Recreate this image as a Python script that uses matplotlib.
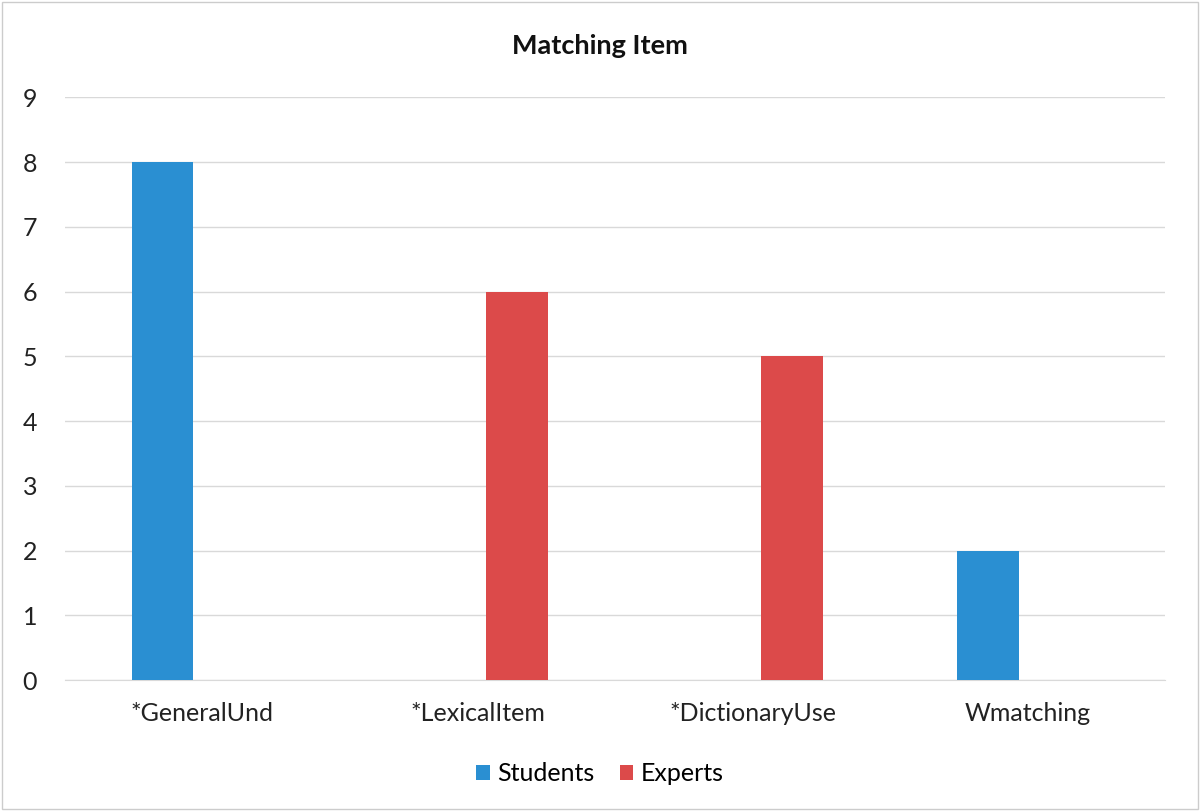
import numpy as np
import matplotlib.pyplot as plt
from matplotlib.patches import Rectangle

plt.rcParams['font.family'] = ['Lato', 'DejaVu Sans']

categories = ['*GeneralUnd', '*LexicalItem', '*DictionaryUse', 'Wmatching']
students = [8, 0, 0, 2]
experts = [0, 6, 5, 0]
yticks = list(range(0, 10))

blue = '#2a8fd2'
red = '#dc4a4a'

fig = plt.figure(figsize=(12, 8.11), dpi=100)
ax = fig.add_axes([0.054, 0.1615, 0.917, 0.7185])

x = np.arange(len(categories))
w = 0.225
off = 0.145
ax.bar(x - off, students, w, color=blue, label='Students', zorder=3)
ax.bar(x + off, experts, w, color=red, label='Experts', zorder=3)

ax.set_xlim(-0.5, len(categories) - 0.5)
ax.set_ylim(0, 9)
ax.set_yticks(yticks)
ax.set_xticks(x)
ax.set_xticklabels(categories)
ax.tick_params(axis='both', length=0, labelsize=18, colors='#222222')
ax.tick_params(axis='x', pad=16)
ax.tick_params(axis='y', pad=20)
ax.grid(axis='y', color='#d9d9d9', linewidth=1, zorder=0)
for s in ['top', 'right', 'left']:
    ax.spines[s].set_visible(False)
ax.spines['bottom'].set_color('#d9d9d9')

fig.text(0.5, 0.943, 'Matching Item', ha='center', va='center',
         fontsize=19.5, fontweight='bold', color='#111111')

fig.legend(loc='center', bbox_to_anchor=(0.5, 0.046), ncol=2, frameon=False,
           fontsize=18, handlelength=0.55, handleheight=0.55, handletextpad=0.3,
           columnspacing=1.0)

fig.patches.append(Rectangle((0.002, 0.003), 0.996, 0.994, transform=fig.transFigure,
                             fill=False, edgecolor='#cccccc', linewidth=1))

fig.savefig('out.png', dpi=100)
